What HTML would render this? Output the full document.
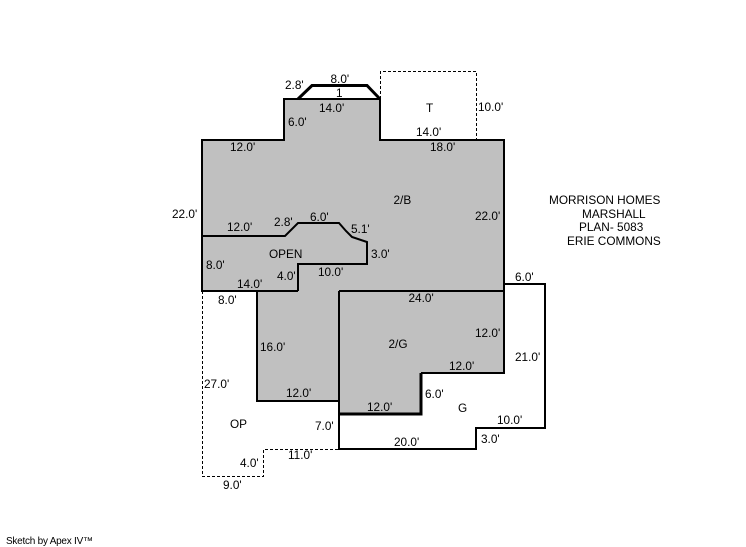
<!DOCTYPE html>
<html>
<head>
<meta charset="utf-8">
<style>
html,body{margin:0;padding:0;background:#fff;width:746px;height:547px;overflow:hidden}
svg{display:block}
text{font-family:"Liberation Sans",Arial,sans-serif;font-size:11.8px;fill:#000}
</style>
</head>
<body>
<svg width="746" height="547" viewBox="0 0 746 547" xmlns="http://www.w3.org/2000/svg">
<rect width="746" height="547" fill="#fff"/>
<!-- grey floor area -->
<polygon fill="#c0c0c0" points="202,140 284,140 284,99 380,99 380,140 504,140 504,373 421,373 421,414 339,414 339,401 257,401 257,291 202,291"/>
<!-- dashed -->
<g fill="none" stroke="#000" stroke-width="1" stroke-dasharray="3,2">
<polyline points="380.5,99 380.5,71.5 476.5,71.5 476.5,140"/>
<polyline points="202.5,291 202.5,476.5 263.5,476.5 263.5,449.5 339,449.5"/>
</g>
<!-- solid outlines -->
<g fill="none" stroke="#000" stroke-width="2" stroke-linejoin="miter">
<polyline points="298,291 202,291 202,140 284,140 284,99 380,99 380,140 504,140 504,291 339,291"/>
<polyline points="257,291 257,401 339,401"/>
<polyline points="202,236 285,236 298,223 339,223 346,231 352,237 367,242 367,264 298,264 298,291"/>
<polyline points="504,291 504,373 421,373"/>
<polyline points="339,291 339,449 476,449 476,428 545,428 545,284 504,284"/>
</g>
<g fill="none" stroke="#000" stroke-width="3">
<polyline points="298,99 312,85.5 367,85.5 380,99"/>
<polyline points="339,414 421,414 421,373"/>
</g>
<!-- labels -->
<text x="330.5" y="83">8.0'</text>
<text x="285" y="89">2.8'</text>
<text x="336" y="97">1</text>
<text x="319" y="112">14.0'</text>
<text x="288" y="126">6.0'</text>
<text x="426" y="112">T</text>
<text x="478" y="111">10.0'</text>
<text x="416" y="136">14.0'</text>
<text x="430" y="151">18.0'</text>
<text x="230" y="151">12.0'</text>
<text x="393.5" y="204">2/B</text>
<text x="172" y="218">22.0'</text>
<text x="475" y="220">22.0'</text>
<text x="227" y="231">12.0'</text>
<text x="274" y="226">2.8'</text>
<text x="310" y="221">6.0'</text>
<text x="351" y="233">5.1'</text>
<text x="269" y="258">OPEN</text>
<text x="371" y="258">3.0'</text>
<text x="206" y="269">8.0'</text>
<text x="277" y="280">4.0'</text>
<text x="318" y="276">10.0'</text>
<text x="237" y="288">14.0'</text>
<text x="515" y="281">6.0'</text>
<text x="218" y="304">8.0'</text>
<text x="408.5" y="302">24.0'</text>
<text x="475" y="337">12.0'</text>
<text x="260" y="351">16.0'</text>
<text x="388.5" y="348">2/G</text>
<text x="515" y="361">21.0'</text>
<text x="204" y="388">27.0'</text>
<text x="449" y="370">12.0'</text>
<text x="286" y="397">12.0'</text>
<text x="425" y="398">6.0'</text>
<text x="367" y="411">12.0'</text>
<text x="458" y="412">G</text>
<text x="497" y="424">10.0'</text>
<text x="230" y="428">OP</text>
<text x="315" y="430">7.0'</text>
<text x="481" y="443">3.0'</text>
<text x="394" y="446">20.0'</text>
<text x="288" y="459">11.0'</text>
<text x="240" y="467">4.0'</text>
<text x="223" y="489">9.0'</text>
<text x="549" y="204">MORRISON HOMES</text>
<text x="582" y="218">MARSHALL</text>
<text x="579" y="231">PLAN- 5083</text>
<text x="567" y="245">ERIE COMMONS</text>
<text x="6" y="544" style="font-size:10px" textLength="87" lengthAdjust="spacing">Sketch by Apex IV™</text>
</svg>
</body>
</html>
